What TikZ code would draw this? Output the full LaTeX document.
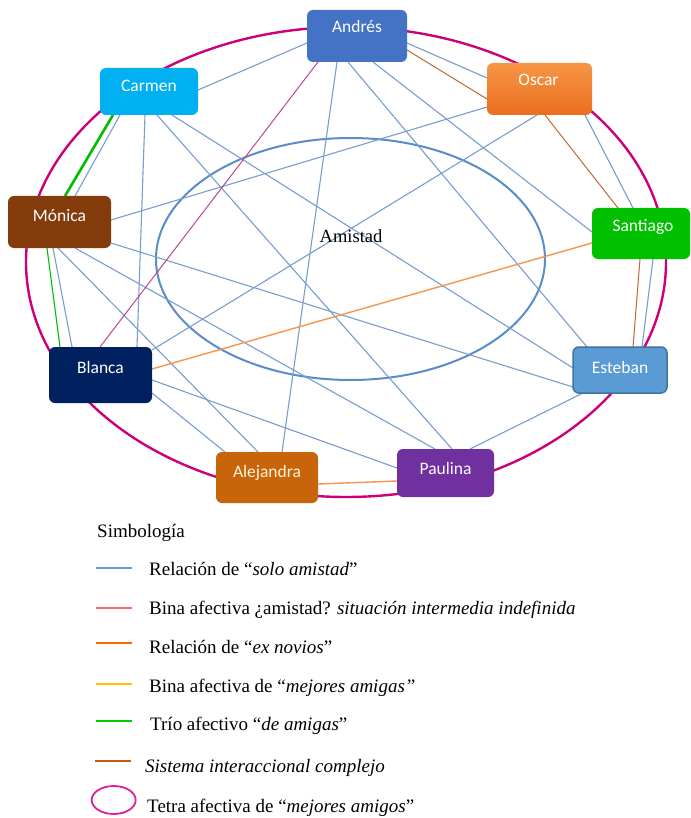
\documentclass[tikz,border=0pt]{standalone}
\usepackage{fontspec}
\setmainfont{Liberation Serif}
\newfontfamily\boxfont{Carlito}
\usetikzlibrary{calc}
\pgfdeclarelayer{bgbg}
\pgfdeclarelayer{bg}
\pgfsetlayers{bgbg,bg,main}
\definecolor{andresc}{RGB}{68,114,196}
\definecolor{oscartop}{RGB}{247,150,70}
\definecolor{oscarbot}{RGB}{232,110,30}
\definecolor{carmenc}{RGB}{0,176,240}
\definecolor{santiagoc}{RGB}{0,192,0}
\definecolor{monicac}{RGB}{132,60,12}
\definecolor{blancac}{RGB}{0,32,96}
\definecolor{estebanc}{RGB}{91,155,213}
\definecolor{estebanb}{RGB}{65,113,156}
\definecolor{alejandrac}{RGB}{200,100,10}
\definecolor{paulinac}{RGB}{112,48,160}
\definecolor{pinkc}{RGB}{204,0,122}
\definecolor{friendc}{RGB}{120,158,205}
\definecolor{amistadc}{RGB}{90,140,200}
\definecolor{brownc}{RGB}{192,105,50}
\definecolor{orangec}{RGB}{244,150,80}
\definecolor{magc}{RGB}{190,70,150}
\definecolor{greenc}{RGB}{0,190,0}
\definecolor{legblue}{RGB}{91,155,213}
\definecolor{legred}{RGB}{255,102,102}
\definecolor{legorange}{RGB}{255,102,0}
\definecolor{legyellow}{RGB}{255,192,0}
\definecolor{leggreen}{RGB}{0,204,0}
\definecolor{legbrown}{RGB}{197,90,17}
\definecolor{legpink}{RGB}{224,32,150}
\begin{document}
\begin{tikzpicture}[x=1pt,y=-1pt,
  nbox/.style={rectangle, rounded corners=6pt, inner sep=0pt, outer sep=0pt},
  ntext/.style={anchor=base, text=white, font=\boxfont\fontsize{17.5}{20}\selectfont, inner sep=0pt},
  friend/.style={draw=friendc, line width=1.1pt},
  brownl/.style={draw=brownc, line width=1pt},
  orangel/.style={draw=orangec, line width=1.4pt},
  magl/.style={draw=magc, line width=1pt},
  greenl/.style={draw=greenc, line width=1.1pt},
  legtext/.style={anchor=base west, inner sep=0pt, font=\fontsize{19}{22}\selectfont},
  legline/.style={line width=1.8pt}]
\useasboundingbox (0,0) rectangle (690,818);

% boxes
\node[nbox, fill=andresc, minimum width=100pt, minimum height=52pt] (andres) at (357,36) {};
\node[nbox, top color=oscartop, bottom color=oscarbot, minimum width=105pt, minimum height=52pt] (oscar) at (539.5,89) {};
\node[nbox, fill=carmenc, minimum width=98pt, minimum height=47pt] (carmen) at (149,91.5) {};
\node[nbox, fill=santiagoc, minimum width=98pt, minimum height=51pt] (santiago) at (641,233.5) {};
\node[nbox, fill=monicac, minimum width=103pt, minimum height=52pt] (monica) at (59.5,222) {};
\node[nbox, fill=blancac, minimum width=103pt, minimum height=56pt] (blanca) at (100.5,375) {};
\node[nbox, fill=estebanc, draw=estebanb, line width=1.5pt, minimum width=94pt, minimum height=46pt] (esteban) at (620,370) {};
\node[nbox, fill=alejandrac, minimum width=102pt, minimum height=51pt] (alejandra) at (267,477.5) {};
\node[nbox, fill=paulinac, minimum width=97pt, minimum height=48pt] (paulina) at (445.5,473) {};

\node[ntext] (andres-t) at ($(andres.north)+(0,23)$) {Andrés};
\node[ntext] (oscar-t) at ($(oscar.north)+(-1,23)$) {Oscar};
\node[ntext] (carmen-t) at ($(carmen.north)+(0,24)$) {Carmen};
\node[ntext] (santiago-t) at ($(santiago.north)+(2,23)$) {Santiago};
\node[ntext] (monica-t) at ($(monica.north)+(0,26)$) {Mónica};
\node[ntext] (blanca-t) at ($(blanca.north)+(0,26)$) {Blanca};
\node[ntext] (esteban-t) at ($(esteban.north)+(0,26)$) {Esteban};
\node[ntext, text={rgb,255:red,255;green,245;blue,220}] (alejandra-t) at ($(alejandra.north)+(0,25)$) {Alejandra};
\node[ntext] (paulina-t) at ($(paulina.north)+(0,25)$) {Paulina};

\node[inner sep=0pt, anchor=base, font=\fontsize{18.5}{21}\selectfont] (amistad) at (351,242) {Amistad};

\begin{pgfonlayer}{bgbg}
\fill[white] (0,0) rectangle (690,818);
\draw[pinkc, line width=2.4pt] (346,262) ellipse [x radius=320pt, y radius=235pt];
\end{pgfonlayer}

\begin{pgfonlayer}{bg}
\draw[amistadc, line width=2pt] (350.5,259) ellipse [x radius=194.5pt, y radius=121pt];
% solo amistad
\draw[friend] ($(andres.north west)+(0,33)$) -- ($(carmen.north west)+(98,22)$);
\draw[friend] ($(andres.north west)+(100,33)$) -- ($(oscar.north west)+(0,15)$);
\draw[friend] ($(andres.north west)+(30,52)$) -- ($(alejandra.north west)+(66,0)$);
\draw[friend] ($(andres.north west)+(41,52)$) -- ($(esteban.north west)+(14,0)$);
\draw[friend] ($(andres.north west)+(66,52)$) -- ($(santiago.north west)+(0,24)$);
\draw[friend] ($(oscar.north west)+(0,44)$) -- ($(monica.north west)+(103,24)$);
\draw[friend] ($(oscar.north west)+(50,52)$) -- ($(blanca.north west)+(103,3)$);
\draw[friend] ($(oscar.north west)+(98,52)$) -- ($(santiago.north west)+(41,0)$);
\draw[friend] ($(carmen.north west)+(20,47)$) -- ($(monica.north west)+(67,0)$);
\draw[friend] ($(carmen.north west)+(45,47)$) -- ($(blanca.north west)+(88,0)$);
\draw[friend] ($(carmen.north west)+(57,47)$) -- ($(paulina.north west)+(55,0)$);
\draw[friend] ($(carmen.north west)+(72,47)$) -- ($(esteban.north west)+(0,21)$);
\draw[friend] ($(monica.north west)+(45,52)$) -- ($(blanca.north west)+(23,0)$);
\draw[friend] ($(monica.north west)+(50,52)$) -- ($(alejandra.north west)+(42,0)$);
\draw[friend] ($(monica.north west)+(67,52)$) -- ($(paulina.north west)+(38,0)$);
\draw[friend] ($(monica.north west)+(103,47)$) -- ($(esteban.north west)+(0,40)$);
\draw[friend] ($(blanca.north west)+(103,33)$) -- ($(paulina.north west)+(0,19)$);
\draw[friend] ($(blanca.north west)+(103,46)$) -- ($(alejandra.north west)+(9,0)$);
\draw[friend] ($(santiago.north west)+(61,51)$) -- ($(esteban.north west)+(69,0)$);
\draw[friend] ($(esteban.north west)+(10,46)$) -- ($(paulina.north west)+(73,0)$);
% sistema interaccional complejo
\draw[brownl] ($(andres.north west)+(100,40)$) -- ($(oscar.north west)+(0,36)$);
\draw[brownl] ($(oscar.north west)+(58,52)$) -- ($(santiago.north west)+(26,0)$);
\draw[brownl] ($(santiago.north west)+(48,51)$) -- ($(esteban.north west)+(60,0)$);
% orange
\draw[orangel] ($(blanca.north west)+(103,22)$) -- ($(santiago.north west)+(0,35)$);
\draw[orangel] ($(alejandra.north west)+(102,32)$) -- ($(paulina.north west)+(0,32)$);
% bina amistad?
\draw[magl] ($(andres.north west)+(11,52)$) -- ($(blanca.north west)+(51,0)$);
% trio
\draw[greenl, line width=2.6pt] ($(carmen.north west)+(13,47)$) -- ($(monica.north west)+(57,0)$);
\draw[greenl] ($(monica.north west)+(39,52)$) -- ($(blanca.north west)+(11,0)$);
\end{pgfonlayer}

% legend
\node[legtext] (simb) at (97,537) {Simbología};
\draw[legline, legblue] (96,568) -- (132,568);
\node[legtext] (leg1) at (149,575) {Relación de “\textit{solo amistad}”};
\draw[legline, legred] (96,608) -- (132,608);
\node[legtext] (leg2) at (149,614) {Bina afectiva ¿amistad? \textit{situación intermedia indefinida}};
\draw[legline, legorange] (96,643) -- (132,643);
\node[legtext] (leg3) at (149,653) {Relación de “\textit{ex novios}”};
\draw[legline, legyellow] (96,684) -- (132,684);
\node[legtext] (leg4) at (149,692) {Bina afectiva de “\textit{mejores amigas”}};
\draw[legline, leggreen] (96,721) -- (132,721);
\node[legtext] (leg5) at (150,730) {Trío afectivo “\textit{de amigas}”};
\draw[legline, legbrown] (95,761) -- (131,761);
\node[legtext] (leg6) at (145,772) {\textit{Sistema interaccional complejo}};
\draw[legpink, line width=1.8pt] (113.7,800) ellipse [x radius=22pt, y radius=14pt];
\node[legtext] (leg7) at (147,812) {Tetra afectiva de “\textit{mejores amigos}”};
\end{tikzpicture}
\end{document}
